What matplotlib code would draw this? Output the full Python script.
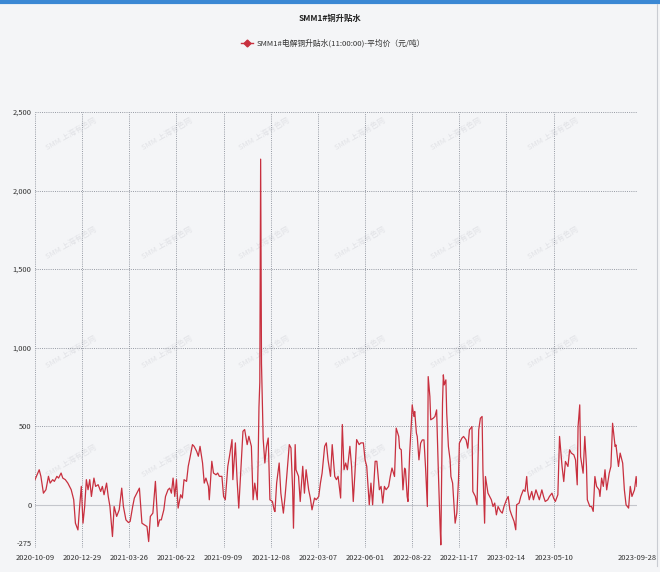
import matplotlib
matplotlib.use("Agg")
import matplotlib.pyplot as plt
from matplotlib.lines import Line2D

plt.rcParams['font.family'] = ['Noto Sans CJK SC', 'DejaVu Sans']

title = "SMM1#铜升贴水"
series_name = "SMM1#电解铜升贴水(11:00:00)-平均价（元/吨）"

# trading-day index (0 = 2020-10-09) and premium values (元/吨)
day_index = [
    0, 5, 7, 10, 13, 16, 18, 21, 23, 26, 28, 31, 33, 36, 39, 43, 46, 48, 51, 53,
    55, 57, 59, 61, 63, 65, 67, 70, 72, 75, 78, 80, 82, 85, 87, 89, 92, 94, 97, 100,
    103, 105, 108, 111, 113, 116, 118, 121, 124, 127, 130, 133, 135, 137, 140,
    143, 146, 148, 150, 153, 155, 158, 160, 162, 164, 166, 168, 170, 173, 175, 177,
    180, 182, 184, 187, 189, 192, 194, 196, 199, 201, 203, 206, 207, 210, 212, 215,
    217, 219, 222, 224, 226, 229, 231, 234, 235, 238, 240, 242, 245, 247, 249, 252,
    254, 257, 259, 261, 264, 265, 266, 267, 268, 269, 271, 273, 275, 277, 279, 282,
    284, 285, 287, 290, 292, 295, 297, 299, 302, 304, 306, 307, 309, 310, 313, 315,
    318, 320, 322, 325, 327, 329, 332, 334, 337, 339, 341, 344, 346, 348, 351, 353,
    356, 358, 360, 363, 365, 367, 369, 371, 374, 376, 378, 380, 382, 385, 387, 390,
    392, 394, 397, 399, 401, 404, 406, 409, 411, 413, 415, 417, 420, 422, 424,
    427, 429, 432, 433, 435, 437, 439, 440, 442, 443, 445, 447, 448, 450, 451, 453,
    454, 456, 458, 460, 462, 464, 466, 467, 469, 470, 473, 475, 477, 479, 481, 482,
    484, 485, 486, 488, 489, 491, 493, 494, 496, 499, 501, 503, 504, 507, 509, 512,
    514, 516, 519, 520, 523, 525, 527, 529, 531, 532, 534, 535, 538, 540, 542, 544,
    546, 548, 550, 553, 555, 557, 560, 562, 564, 566, 569,
    571, 572, 575, 577, 580, 582, 584, 585, 587, 590, 592, 595, 597, 599, 602, 604,
    606, 609, 611, 614, 616, 618, 621, 623, 626, 628, 630, 633, 635, 637, 640, 642,
    644, 645, 647, 648, 651, 653, 655, 656, 659, 661, 663, 665, 667, 670, 671, 673,
    675, 677, 679, 682, 684, 686, 689, 690, 693, 695, 698, 700, 702, 705, 707, 709,
    712, 714, 715,
]
premium = [
    160, 223, 181, 74, 96, 181, 138, 160, 149, 181, 170, 202, 170, 160, 138, 96, 32, -117, -160, -11,
    117, -117, -11, 160, 96, 160, 53, 170, 117, 128, 85, 117, 64, 138, 53, -11, -202, -11, -74, -32,
    106, -11, -96, -113, -106, -11, 43, 74, 106, -117, -128, -138, -234, -74, -53,
    149, -138, -96, -96, -32, 53, 96, 106, 74, 170, 53, 160, -21, 64, 43, 160,
    149, 245, 298, 383, 372, 340, 309, 372, 266, 138, 170, 117, 32, 277, 202, 191,
    202, 181, 181, 53, 32, 245, 309, 415, 160, 394, 160, -21, 266, 468, 479, 383,
    436, 372, 32, 138, 32, 266, 620, 780, 2200, 900, 420, 266, 372, 425, 32, 21,
    -32, -43, 138, 266, 74, -53, 53, 181, 383, 362, 96, -149, 383, 223, 181, 21,
    245, 74, 223, 96, 43, -32, 43, 32, 53, 138, 202, 372, 394, 287, 181, 383,
    181, 160, 181, 43, 511, 223, 266, 223, 372, 245, 21, 202, 415, 383, 394, 394,
    287, 245, 0, 138, 0, 277, 277, 96, 117, 11, 117, 96, 117, 181, 234,
    180, 488, 435, 360, 350, 95, 233, 223, 53, 21, 329, 520, 636, 562, 594, 456,
    435, 286, 392, 413, 413, 223, -11, 816, 689, 541, 551, 562, 604, 223, -117, -255,
    647, 827, 763, 795, 583, 371, 286, 180, 138, -117, -53, 159, 392, 424, 435, 413,
    360, 477, 498, 85, 53, 0, 477, 551, 562, 223, -117, 180, 74, 53, 32, -11,
    11, -64, -11, -42, -53, -11, 32, 53, -32, -64, -106,
    -159, 0, 11, 53, 95, 85, 180, 95, 32, 85, 32, 95, 64, 32, 95, 53,
    21, 32, 53, 74, 42, 21, 64, 435, 244, 148, 276, 244, 350, 329, 318, 286,
    127, 498, 636, 307, 201, 435, 244, 32, -11, -11, -42, 180, 117, 95, 53, 170,
    117, 223, 95, 201, 244, 519, 371, 381, 244, 329, 265, 95, 0, -21, 117, 53,
    95, 180, 117,
]

tick_index = [0, 56, 112, 168, 224, 280, 336, 392, 448, 504, 560, 616, 715]
tick_labels = ["2020-10-09", "2020-12-29", "2021-03-26", "2021-06-22", "2021-09-09",
               "2021-12-08", "2022-03-07", "2022-06-01", "2022-08-22", "2022-11-17",
               "2023-02-14", "2023-05-10", "2023-09-28"]
y_ticks = [-275, 0, 500, 1000, 1500, 2000, 2500]
y_labels = ["-275", "0", "500", "1,000", "1,500", "2,000", "2,500"]

line_color = "#c8303f"
bg = "#f4f5f7"

fig = plt.figure(figsize=(6.6, 5.72), dpi=100, facecolor=bg)
ax = fig.add_axes([35/660, 1-548/572, 602/660, 436/572])
ax.set_facecolor(bg)

ax.plot(day_index, premium, color=line_color, linewidth=0.9, zorder=3)

ax.set_xlim(0, 715)
ax.set_ylim(-275, 2500)
ax.set_xticks(tick_index)
ax.set_xticklabels(tick_labels, fontsize=5.4, color="#333333")
ax.set_yticks(y_ticks)
ax.set_yticklabels(y_labels, fontsize=5.4, color="#333333")
ax.tick_params(axis="x", length=0, pad=4.5)
ax.tick_params(axis="y", length=0, pad=2.5)
ylabs = ax.get_yticklabels()
ylabs[0].set_va("bottom")
for s in ax.spines.values():
    s.set_visible(False)

grid_kw = dict(color="#8a8f99", linewidth=0.6, linestyle=(0, (1.2, 1.4)), zorder=1)
for x in tick_index:
    ax.axvline(x, **grid_kw)
for y in y_ticks:
    if y == 0:
        ax.axhline(y, color="#c4c6cc", linewidth=0.8, zorder=1)
    else:
        ax.axhline(y, **grid_kw)

# watermarks
for wx in [0.06, 0.22, 0.38, 0.54, 0.70, 0.86]:
    for wy in [0.95, 0.70, 0.45, 0.20]:
        ax.text(wx, wy, "SMM 上海有色网", transform=ax.transAxes, rotation=30,
                fontsize=5.5, color="#e1e2e6", ha="center", va="center", zorder=0)

fig.text(330/660, 1-18/572, title, ha="center", va="center", fontsize=6,
         fontweight="bold", color="#222222")
handle = Line2D([], [], color=line_color, linewidth=1.0, marker="D", markersize=3.5)
fig.legend([handle], [series_name], loc="center", bbox_to_anchor=(333/660, 1-43/572),
           frameon=False, fontsize=5.6, handlelength=1.6, handletextpad=0.4,
           labelcolor="#333333")

# top blue bar and frame
fig.add_artist(Line2D([0, 1], [1-2/572, 1-2/572], transform=fig.transFigure,
                      color="#3b88d4", linewidth=3))
fig.add_artist(Line2D([657/660, 657/660], [0.01, 1-4/572], transform=fig.transFigure,
                      color="#c9ccd2", linewidth=0.8))

fig.savefig("out.png", dpi=100, facecolor=bg)
